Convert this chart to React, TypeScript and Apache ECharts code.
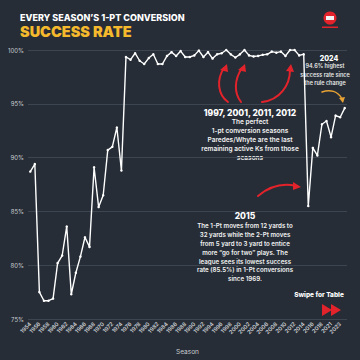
import React, { useEffect, useRef } from "react";
import * as echarts from "echarts";

const seasons: string[] = [
  "1954","1955","1956","1957","1958","1959","1960","1961","1962","1963",
  "1964","1965","1966","1967","1968","1969","1970","1971","1972","1973",
  "1974","1975","1976","1977","1978","1979","1980","1981","1982","1983",
  "1984","1985","1986","1987","1988","1989","1990","1991","1992","1993",
  "1994","1995","1996","1997","1998","1999","2000","2001","2002","2003",
  "2004","2005","2006","2007","2008","2009","2010","2011","2012","2013",
  "2014","2015","2016","2017","2018","2019","2021","2022","2023","2024",
];

const successRate: number[] = [
  88.7, 89.4, 77.5, 76.7, 76.7, 76.9, 80.2, 80.9, 83.6, 77.3,
  79.3, 80.8, 82.6, 81.7, 89.1, 85.4, 86.5, 90.7, 91.0, 92.8,
  88.8, 99.35, 99.1, 99.7, 99.0, 98.7, 99.25, 99.6, 98.7, 98.7,
  99.45, 99.8, 99.45, 99.9, 99.35, 99.35, 99.5, 99.95, 99.35, 99.8,
  99.2, 99.6, 99.7, 100, 99.6, 99.3, 99.6, 100, 99.5, 99.4,
  99.45, 99.55, 99.6, 99.85, 99.75, 99.85, 99.45, 100, 100, 99.5,
  99.6, 85.5, 90.9, 90.2, 93.1, 93.4, 91.9, 93.9, 93.75, 94.6,
];

const yTicks = { min: 75, max: 100, interval: 5 };

const BG = "#262d36";
const RED = "#e3232b";
const FONT = "Inter, 'Open Sans', sans-serif";

function txt(text: string, x: number, y: number, size: number, weight: any, fill: string, lh?: number, align = "center") {
  return {
    type: "text",
    x,
    y,
    silent: true,
    style: {
      text,
      fill,
      fontSize: size,
      fontWeight: weight,
      fontFamily: FONT,
      align,
      textAlign: align,
      verticalAlign: "top",
      textVerticalAlign: "top",
      lineHeight: lh || size * 1.2,
    },
  };
}

function curve(x1: number, y1: number, c1x: number, c1y: number, c2x: number, c2y: number, x2: number, y2: number, color: string, w: number) {
  return {
    type: "bezierCurve",
    silent: true,
    shape: { x1, y1, cpx1: c1x, cpy1: c1y, cpx2: c2x, cpy2: c2y, x2, y2 },
    style: { stroke: color, lineWidth: w, fill: null, lineCap: "round" },
  };
}

function tri(points: number[][], color: string) {
  return {
    type: "polygon",
    silent: true,
    shape: { points },
    style: { fill: color },
  };
}

export default function App() {
  const ref = useRef<HTMLDivElement>(null);
  useEffect(() => {
    if (!ref.current) return;
    const chart = echarts.init(ref.current, undefined, { renderer: "svg" });
    chart.setOption({
      animation: false,
      backgroundColor: BG,
      grid: { left: 28, right: 13, top: 50, bottom: 37, containLabel: false },
      xAxis: {
        type: "category",
        data: seasons,
        boundaryGap: true,
        name: "Season",
        nameLocation: "middle",
        nameGap: 29,
        nameTextStyle: { color: "#c9ccd0", fontSize: 6.5, fontFamily: FONT },
        axisLine: { show: false },
        axisTick: { show: false },
        axisLabel: {
          interval: 1,
          rotate: 45,
          color: "#d0d3d6",
          fontSize: 5.5,
          fontWeight: 600,
          fontFamily: FONT,
          margin: 4,
        },
        splitLine: { show: false },
      },
      yAxis: {
        type: "value",
        min: yTicks.min,
        max: yTicks.max,
        interval: yTicks.interval,
        axisLine: { show: false },
        axisTick: { show: false },
        axisLabel: {
          formatter: "{value}%",
          color: "#c9ccd0",
          fontSize: 6,
          fontFamily: FONT,
          margin: 4,
        },
        splitLine: { lineStyle: { color: "#3c4550", width: 1 } },
      },
      series: [
        {
          type: "line",
          data: successRate,
          symbol: "circle",
          symbolSize: 2.5,
          lineStyle: { color: "#ffffff", width: 1.4 },
          itemStyle: { color: "#ffffff" },
          z: 5,
        },
      ],
      graphic: [
        txt("EVERY SEASON\u2019S 1-PT CONVERSION", 20, 12.5, 9, 800, "#ffffff", undefined, "left"),
        txt("SUCCESS RATE", 20, 23, 14.5, 900, "#f5b92d", undefined, "left"),
        { type: "circle", silent: true, shape: { cx: 330, cy: 18, r: 6.5 }, style: { fill: RED } },
        { type: "rect", silent: true, shape: { x: 326, y: 16, width: 8, height: 4 }, style: { fill: "#f2f2f2" } },
        { type: "rect", silent: true, shape: { x: 322, y: 26.5, width: 16, height: 1.5 }, style: { fill: RED } },
        // 2024 annotation
        txt("2024", 329, 54, 7, 800, "#ffffff"),
        txt("94.6% highest\nsuccess rate since\nthe rule change", 325, 62, 5.5, 600, "#e8e8e8", 8.5),
        curve(322, 92, 330, 89, 338, 91, 342, 99, "#e6a235", 1.5),
        tri([[339, 98], [345, 97], [343, 103]], "#e6a235"),
        // perfect seasons arrows
        curve(228, 102, 218, 95, 216, 80, 224, 68, RED, 2),
        tri([[220, 70], [227, 64], [228, 72]], RED),
        curve(241, 102, 234, 93, 234, 80, 242, 68, RED, 2),
        tri([[238, 70], [245, 64], [246, 72]], RED),
        curve(262, 102, 280, 100, 290, 85, 290, 70, RED, 2),
        tri([[286, 71], [291, 64], [294, 72]], RED),
        txt("1997, 2001, 2011, 2012", 250, 108, 8.5, 800, "#ffffff"),
        txt(
          "The perfect\n1-pt conversion seasons\nParedes/Whyte are the last\nremaining active Ks from those\nseasons",
          250, 118, 6.5, 600, "#f2f2f2", 8.8,
        ),
        // 2015 annotation
        curve(258, 196, 270, 186, 283, 183, 296, 186, RED, 2),
        tri([[293, 182], [301, 187], [293, 190]], RED),
        txt("2015", 245, 211, 8.5, 800, "#ffffff"),
        txt(
          "The 1-Pt moves from 12 yards to\n32 yards while the 2-Pt moves\nfrom 5 yard to 3 yard to entice\nmore \u201Cgo for two\u201D plays. The\nleague sees its lowest success\nrate (85.5%) in 1-Pt conversions\nsince 1969.",
          245, 221, 6.2, 600, "#f2f2f2", 8.9,
        ),
        // swipe
        txt("Swipe for Table", 319, 291, 6.5, 800, "#ffffff"),
        tri([[322, 304], [332, 310], [322, 316]], RED),
        tri([[331, 304], [341, 310], [331, 316]], RED),
      ],
    });
    return () => chart.dispose();
  }, []);
  return <div ref={ref} style={{ width: 360, height: 360, position: "absolute", left: 0, top: 0 }} />;
}
